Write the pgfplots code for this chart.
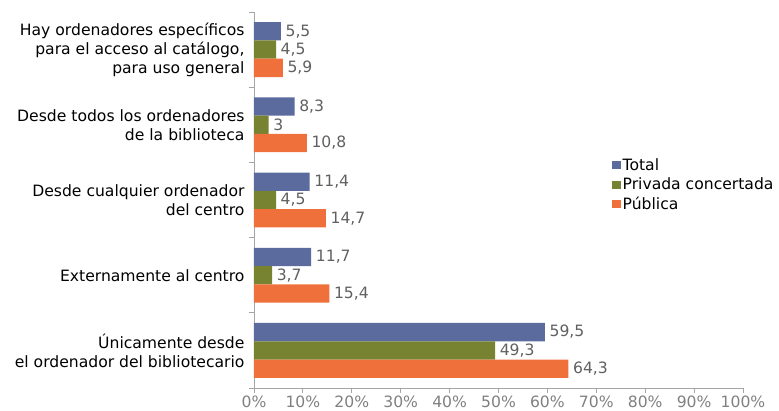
\documentclass[border=0pt]{standalone}
\usepackage{pgfplots}
\pgfplotsset{compat=1.18}
\usepackage{fontspec}
\setmainfont{DejaVu Sans}
\definecolor{cTotal}{RGB}{91,107,158}
\definecolor{cPriv}{RGB}{120,131,50}
\definecolor{cPub}{RGB}{240,112,60}
\definecolor{lblgray}{RGB}{96,96,96}
\definecolor{tickgray}{RGB}{128,128,128}
\definecolor{axgray}{RGB}{165,165,165}
\begin{document}
\begin{tikzpicture}
\useasboundingbox (-254pt,-22pt) rectangle (525pt,388pt);
\begin{axis}[
  at={(0,0)}, anchor=south west,
  scale only axis, width=489pt, height=376pt,
  xbar, bar width=18.3pt,
  xmin=0, xmax=100, ymin=-0.5, ymax=4.5,
  axis x line*=bottom, axis y line*=left,
  axis line style={axgray, line width=0.8pt},
  xtick={0,10,...,100},
  xticklabel={\pgfmathprintnumber{\tick}\%},
  /pgf/number format/assume math mode=true,
  xticklabel style={font=\fontsize{15.6}{18}\selectfont, text=tickgray, yshift=1pt},
  ytick={0,1,2,3,4},
  yticklabels={{Únicamente desde\\el ordenador del bibliotecario},{Externamente al centro},{Desde cualquier ordenador\\del centro},{Desde todos los ordenadores\\de la biblioteca},{Hay ordenadores específicos\\para el acceso al catálogo,\\para uso general}},
  yticklabel style={align=right, font=\fontsize{15.6}{19}\selectfont, text=black, xshift=-1pt},
  minor ytick={-0.5,0.5,1.5,2.5,3.5,4.5},
  major tick length=5pt, minor tick length=5pt,
  tick align=outside,
  tick style={axgray, line width=0.8pt},
  every major y tick/.append style={draw=none},
  nodes near coords={\pgfmathprintnumber[use comma]{\pgfplotspointmeta}},
  every node near coord/.append style={font=\fontsize{15.6}{18}\selectfont, text=lblgray, inner sep=2pt, xshift=2.5pt},
  legend style={draw=none, fill=none, at={(0.732,0.54)}, anchor=west, font=\fontsize{15.6}{18}\selectfont, row sep=2pt, inner sep=0pt},
  legend cell align=left,
  legend image code/.code={\fill[#1] (0pt,-4pt) rectangle (8.5pt,4pt);},
]
\addplot[fill=cTotal, draw=none, bar shift=18.3pt] coordinates {(5.5,4) (8.3,3) (11.4,2) (11.7,1) (59.5,0)};
\addplot[fill=cPriv, draw=none, bar shift=0pt] coordinates {(4.5,4) (3,3) (4.5,2) (3.7,1) (49.3,0)};
\addplot[fill=cPub, draw=none, bar shift=-18.3pt] coordinates {(5.9,4) (10.8,3) (14.7,2) (15.4,1) (64.3,0)};
\legend{Total, Privada concertada, Pública}
\end{axis}
\end{tikzpicture}
\end{document}
